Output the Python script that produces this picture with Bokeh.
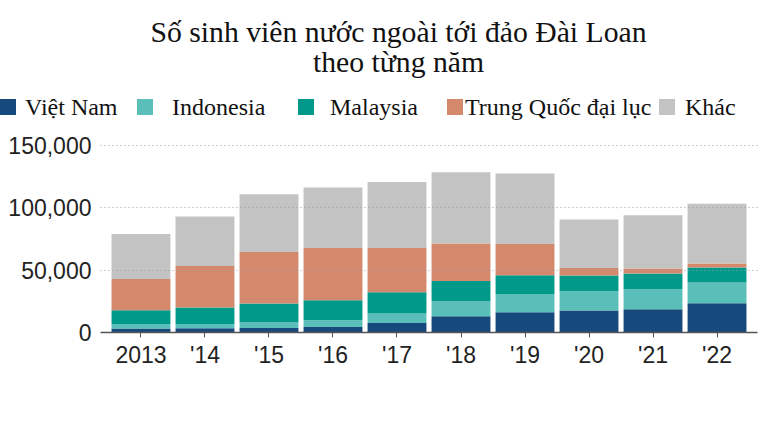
from bokeh.plotting import figure
from bokeh.layouts import column
from bokeh.models import (Range1d, FactorRange, FixedTicker, NumeralTickFormatter,
                          ColumnDataSource, Div)
from bokeh.embed import file_html
from bokeh.resources import INLINE

# ---- data ----
years = ["2013", "'14", "'15", "'16", "'17", "'18", "'19", "'20", "'21", "'22"]
viet_nam = [3200, 3400, 3700, 4500, 7700, 13100, 16300, 17700, 18700, 23500]
indonesia = [3700, 3500, 4800, 5400, 7500, 12000, 14700, 15400, 16000, 16600]
malaysia = [11000, 13100, 14800, 16000, 17100, 16300, 15000, 12600, 12600, 12100]
trung_quoc = [25100, 33400, 41400, 42000, 35600, 30000, 25000, 6100, 4100, 3200]
khac = [36100, 39700, 46300, 48500, 53000, 57300, 56600, 38900, 42700, 48100]

series_keys = ["vn", "id", "my", "cn", "kh"]
series_names = ["Việt Nam", "Indonesia", "Malaysia", "Trung Quốc đại lục", "Khác"]
colors = ["#174a7c", "#5bbfb9", "#00998a", "#d4886c", "#c3c3c3"]
y_ticks = [0, 50000, 100000, 150000]

title_line1 = "Số sinh viên nước ngoài tới đảo Đài Loan"
title_line2 = "theo từng năm"

W = 769
HEAD_H = 125
CHART_H = 434 - HEAD_H

# ---------------- header: title + legend (HTML text) ----------------
swatch_left = [0, 137, 298, 447, 659]
label_left = [25, 172, 330, 465, 685]
parts = []
parts.append(
    '<div style="position:absolute;left:0;top:16.7px;width:797px;text-align:center;'
    'font-size:29.7px;line-height:30px;white-space:nowrap;">'
    f'{title_line1}<br>{title_line2}</div>')
for name, col, sl, ll in zip(series_names, colors, swatch_left, label_left):
    parts.append(f'<span style="position:absolute;left:{sl}px;top:99px;width:16px;'
                 f'height:16px;background:{col};"></span>')
    parts.append(f'<span style="position:absolute;left:{ll}px;top:95px;font-size:24px;'
                 f'line-height:24px;white-space:nowrap;">{name}</span>')
html = ('<div style="position:relative;width:%dpx;height:%dpx;overflow:visible;'
        'font-family:\'Liberation Serif\';color:#111111;">%s</div>'
        % (W, HEAD_H, "".join(parts)))
head = Div(text=html, width=W, height=HEAD_H, margin=0)

# ---------------- chart ----------------
src = ColumnDataSource(dict(year=years, vn=viet_nam, id=indonesia, my=malaysia,
                            cn=trung_quoc, kh=khac))

p = figure(width=W, height=CHART_H, output_backend="svg", toolbar_location=None,
           x_range=FactorRange(*years, range_padding=0.1325, range_padding_units="absolute"),
           y_range=Range1d(0, 155000))
p.min_border_left = 100
p.min_border_right = 12
p.min_border_bottom = 102
p.min_border_top = 14
p.outline_line_color = None
p.background_fill_color = "white"
p.border_fill_color = "white"

p.vbar_stack(series_keys, x="year", width=0.92, source=src, color=colors,
             line_color=None)

p.xgrid.grid_line_color = None
p.ygrid.grid_line_color = "#9a9a9a"
p.ygrid.grid_line_dash = "1 3"
p.ygrid.grid_line_width = 1
p.ygrid.level = "annotation"

p.yaxis.ticker = FixedTicker(ticks=y_ticks)
p.yaxis.formatter = NumeralTickFormatter(format="0,0")
p.yaxis.axis_line_color = None
p.yaxis.major_tick_line_color = None
p.yaxis.minor_tick_line_color = None
p.yaxis.major_tick_out = 0
p.yaxis.major_tick_in = 0
p.yaxis.major_label_standoff = 9
p.yaxis.major_label_text_font = "Liberation Sans"
p.yaxis.major_label_text_font_size = "23px"
p.yaxis.major_label_text_color = "#222222"

p.xaxis.axis_line_color = "#555555"
p.xaxis.axis_line_width = 1.5
p.xaxis.major_tick_line_color = "#555555"
p.xaxis.major_tick_out = 5
p.xaxis.major_tick_in = 0
p.xaxis.minor_tick_line_color = None
p.xaxis.major_label_standoff = 4
p.xaxis.major_label_text_font = "Liberation Sans"
p.xaxis.major_label_text_font_size = "23px"
p.xaxis.major_label_text_color = "#222222"

layout = column(head, p, spacing=0)
open("out.html", "w").write(file_html(layout, INLINE))
